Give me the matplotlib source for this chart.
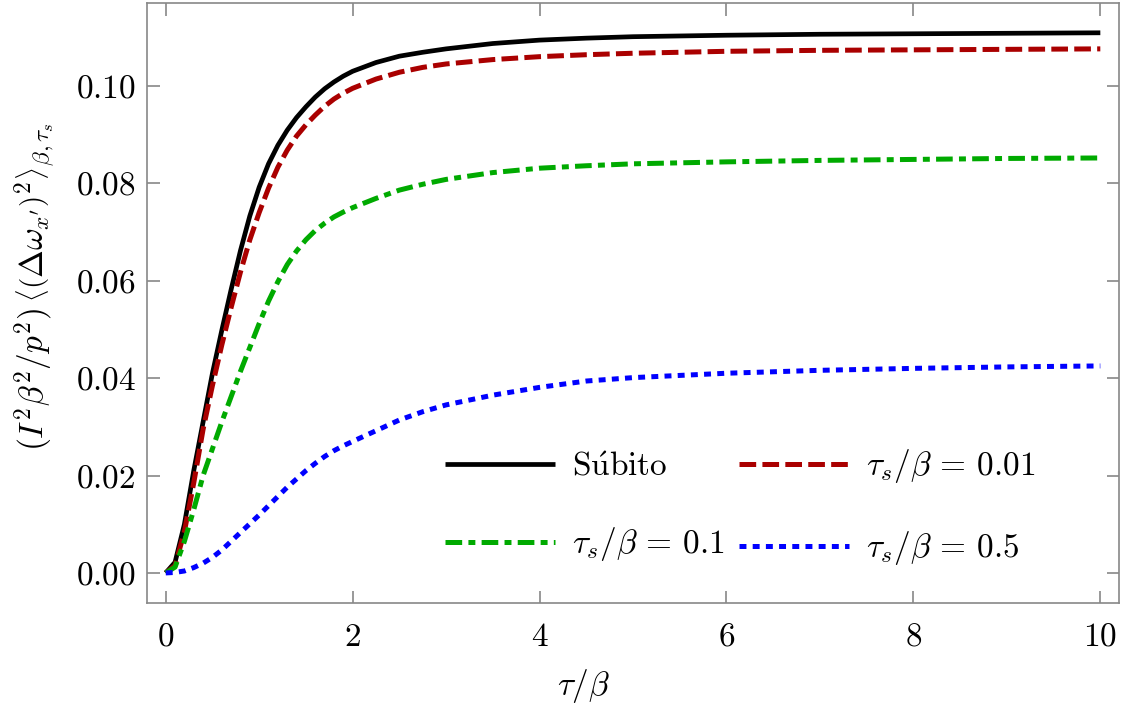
import matplotlib.pyplot as plt

plt.rcParams['mathtext.fontset'] = 'cm'
plt.rcParams['font.family'] = 'serif'
plt.rcParams['font.serif'] = ['cmr10', 'DejaVu Serif']
plt.rcParams['lines.scale_dashes'] = False

# tau / beta
tau = [0, 0.1, 0.2, 0.3, 0.4, 0.5, 0.6, 0.7, 0.8, 0.9, 1.0, 1.1, 1.2, 1.3, 1.4,
       1.5, 1.6, 1.7, 1.8, 1.9, 2.0, 2.25, 2.5, 2.75, 3.0, 3.5, 4, 4.5, 5,
       6, 7, 8, 9, 10]

subito = [0, 0.0022, 0.0100, 0.0210, 0.0310, 0.0410, 0.0498, 0.0582, 0.0662,
          0.0733, 0.0792, 0.0840, 0.0878, 0.0909, 0.0935, 0.0957, 0.0977,
          0.0994, 0.1008, 0.1020, 0.1030, 0.1048, 0.1061, 0.1069, 0.1076,
          0.1087, 0.1094, 0.1098, 0.1101, 0.1104, 0.1106, 0.1107, 0.1108,
          0.1109]

ts_001 = [0, 0.0015, 0.0085, 0.0185, 0.0295, 0.0385, 0.0468, 0.0545, 0.0618,
          0.0684, 0.0740, 0.0790, 0.0833, 0.0868, 0.0897, 0.0920, 0.0940,
          0.0958, 0.0973, 0.0985, 0.0995, 0.1014, 0.1028, 0.1038, 0.1045,
          0.1054, 0.1060, 0.1064, 0.1067, 0.1071, 0.1073, 0.1074, 0.1075,
          0.1076]

ts_01 = [0, 0.0012, 0.0065, 0.0130, 0.0200, 0.0255, 0.0310, 0.0362, 0.0414,
         0.0463, 0.0512, 0.0558, 0.0598, 0.0633, 0.0661, 0.0684, 0.0703,
         0.0718, 0.0731, 0.0741, 0.0750, 0.0769, 0.0786, 0.0798, 0.0808,
         0.0822, 0.0831, 0.0836, 0.0840, 0.0844, 0.0847, 0.0849, 0.0851,
         0.0852]

ts_05 = [0, 0.0001, 0.0004, 0.0011, 0.0020, 0.0032, 0.0047, 0.0065, 0.0083,
         0.0101, 0.0119, 0.0138, 0.0157, 0.0176, 0.0193, 0.0210, 0.0225,
         0.0239, 0.0251, 0.0261, 0.0270, 0.0292, 0.0314, 0.0331, 0.0345,
         0.0365, 0.0381, 0.0394, 0.0401, 0.0410, 0.0416, 0.0420, 0.0423,
         0.0425]

x_ticks = [0, 2, 4, 6, 8, 10]
x_labels = [r'$0$', r'$2$', r'$4$', r'$6$', r'$8$', r'$10$']
y_ticks = [0.0, 0.02, 0.04, 0.06, 0.08, 0.10]
y_labels = [r'$0.00$', r'$0.02$', r'$0.04$', r'$0.06$', r'$0.08$', r'$0.10$']

frame = '#888888'

fig = plt.figure(figsize=(11.31, 7.18), dpi=100)
ax = fig.add_axes([0.130, 0.160, 0.8594, 0.8357])

l1, = ax.plot(tau, subito, color='black', lw=3.4, solid_capstyle='butt',
              label=r'$\mathrm{S\acute{u}bito}$')
l2, = ax.plot(tau, ts_001, color='#aa0000', lw=3.6, dashes=(12, 4.5),
              label=r'$\tau_s/\beta\,=\,0.01$')
l3, = ax.plot(tau, ts_01, color='#00aa00', lw=3.6, dashes=(12, 4.5, 5, 4.5),
              label=r'$\tau_s/\beta\,=\,0.1$')
l4, = ax.plot(tau, ts_05, color='#0000ff', lw=3.6, dashes=(5, 4.5),
              label=r'$\tau_s/\beta\,=\,0.5$')

ax.set_xlim(-0.2, 10.2)
ax.set_ylim(-0.0062, 0.117)
ax.set_xticks(x_ticks, labels=x_labels)
ax.set_yticks(y_ticks, labels=y_labels)
ax.tick_params(direction='in', length=9, width=1.2, color=frame,
               top=True, right=True, labelsize=24)
ax.tick_params(axis='x', pad=14)
ax.tick_params(axis='y', pad=8)
for sp in ax.spines.values():
    sp.set_color(frame)
    sp.set_linewidth(1.2)

ax.set_xlabel(r'$\tau/\beta$', fontsize=24)
ax.xaxis.set_label_coords(0.449, -0.107)
ax.set_ylabel(r'$(I^2\beta^2/p^2)\,\left\langle\left(\Delta\omega_{x^\prime}\right)^2\right\rangle_{\beta,\tau_s}$',
              fontsize=24)
ax.yaxis.set_label_coords(-0.092, 0.527)

# row-wise order: Súbito, 0.01 / 0.1, 0.5
ax.legend([l1, l3, l2, l4], [l1.get_label(), l3.get_label(), l2.get_label(), l4.get_label()],
          ncol=2, loc='lower right', bbox_to_anchor=(0.931, 0.032),
          frameon=False, fontsize=24, handlelength=3.3, handletextpad=0.5,
          columnspacing=0.45, labelspacing=1.32, borderpad=0)

fig.savefig('out.png', dpi=100)
